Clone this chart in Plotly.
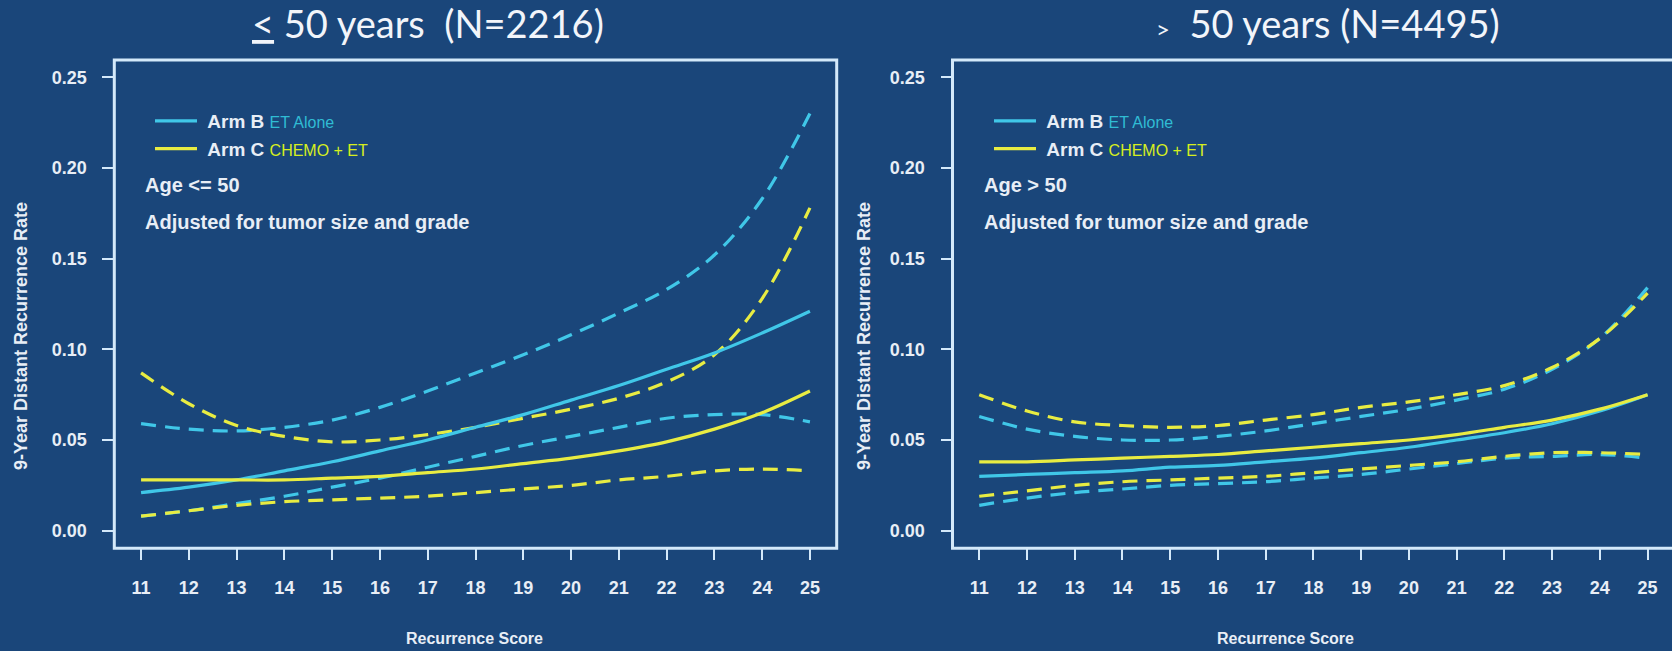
import plotly.graph_objects as go

# ---------------- data ----------------
rs = list(range(11, 26))
y_ticks = [0.00, 0.05, 0.10, 0.15, 0.20, 0.25]

# Age <= 50
young_b = [0.021, 0.024, 0.028, 0.033, 0.038, 0.044, 0.050, 0.057, 0.064, 0.072, 0.080, 0.089, 0.098, 0.109, 0.121]
young_b_hi = [0.059, 0.056, 0.055, 0.057, 0.061, 0.068, 0.077, 0.087, 0.097, 0.108, 0.120, 0.133, 0.152, 0.183, 0.230]
young_b_lo = [0.008, 0.011, 0.015, 0.019, 0.024, 0.029, 0.035, 0.041, 0.047, 0.052, 0.057, 0.062, 0.064, 0.064, 0.060]
young_c = [0.028, 0.028, 0.028, 0.028, 0.029, 0.030, 0.032, 0.034, 0.037, 0.040, 0.044, 0.049, 0.056, 0.065, 0.077]
young_c_hi = [0.087, 0.070, 0.058, 0.052, 0.049, 0.050, 0.053, 0.057, 0.062, 0.067, 0.073, 0.082, 0.097, 0.128, 0.178]
young_c_lo = [0.008, 0.011, 0.014, 0.016, 0.017, 0.018, 0.019, 0.021, 0.023, 0.025, 0.028, 0.030, 0.033, 0.034, 0.033]

# Age > 50
old_b = [0.030, 0.031, 0.032, 0.033, 0.035, 0.036, 0.038, 0.040, 0.043, 0.046, 0.050, 0.054, 0.059, 0.066, 0.075]
old_b_hi = [0.063, 0.056, 0.052, 0.050, 0.050, 0.052, 0.055, 0.059, 0.063, 0.067, 0.072, 0.078, 0.089, 0.106, 0.134]
old_b_lo = [0.014, 0.018, 0.021, 0.023, 0.025, 0.026, 0.027, 0.029, 0.031, 0.034, 0.037, 0.040, 0.041, 0.042, 0.040]
old_c = [0.038, 0.038, 0.039, 0.040, 0.041, 0.042, 0.044, 0.046, 0.048, 0.050, 0.053, 0.057, 0.061, 0.067, 0.075]
old_c_hi = [0.075, 0.066, 0.060, 0.058, 0.057, 0.058, 0.061, 0.064, 0.068, 0.071, 0.075, 0.080, 0.090, 0.106, 0.131]
old_c_lo = [0.019, 0.022, 0.025, 0.027, 0.028, 0.029, 0.030, 0.032, 0.034, 0.036, 0.038, 0.041, 0.043, 0.043, 0.042]

# ---------------- styling ----------------
W, H = 1672, 651
BG = "#1a467a"
CYAN = "#40c7e8"
YELLOW = "#e8ec42"
CYAN_TXT = "#30bcd4"
YELLOW_TXT = "#d6ee1e"
FG = "#e8eef6"
BOX = "#d4e9fa"
BOLD = "Liberation Sans, Arial, sans-serif"
TITLE_FONT = "Lato, Open Sans, sans-serif"
DASH = "15px,9px"
NB = "\u00a0"


def px(x):
    return x / W


def py(y):
    return 1 - y / H


fig = go.Figure()


def add_panel(xa, ya, leg, b, bhi, blo, c, chi, clo):
    for vals, col in [(bhi, CYAN), (blo, CYAN), (chi, YELLOW), (clo, YELLOW)]:
        fig.add_trace(go.Scatter(x=rs, y=vals, mode="lines", xaxis=xa, yaxis=ya,
                                 line=dict(color=col, width=3.2, dash=DASH, shape="spline"),
                                 showlegend=False, hoverinfo="skip"))
    fig.add_trace(go.Scatter(x=rs, y=b, mode="lines", xaxis=xa, yaxis=ya, legend=leg,
                             name=NB + "<b>Arm B</b> <span style='font-size:16px;color:%s'>ET Alone</span>" % CYAN_TXT,
                             line=dict(color=CYAN, width=3.2, shape="spline")))
    fig.add_trace(go.Scatter(x=rs, y=c, mode="lines", xaxis=xa, yaxis=ya, legend=leg,
                             name=NB + "<b>Arm C</b> <span style='font-size:16px;color:%s'>CHEMO + ET</span>" % YELLOW_TXT,
                             line=dict(color=YELLOW, width=3.2, shape="spline")))


add_panel("x", "y", "legend", young_b, young_b_hi, young_b_lo, young_c, young_c_hi, young_c_lo)
add_panel("x2", "y2", "legend2", old_b, old_b_hi, old_b_lo, old_c, old_c_hi, old_c_lo)

yr = [-0.0097, 0.2595]
ydom = [py(548.3), py(60)]
xax_common = dict(tickvals=rs, ticks="outside", ticklen=11, tickwidth=1.5, tickcolor=BOX,
                  showgrid=False, zeroline=False, showline=False, ticklabelstandoff=12,
                  tickfont=dict(family=BOLD, size=18, color=FG, weight="bold"))
yax_common = dict(tickvals=y_ticks, tickformat=".2f", ticks="outside", ticklen=11, tickwidth=1.5,
                  tickcolor=BOX, showgrid=False, zeroline=False, showline=False, range=yr,
                  domain=ydom, ticklabelstandoff=12,
                  tickfont=dict(family=BOLD, size=18, color=FG, weight="bold"))

legend_common = dict(xanchor="left", yanchor="top", bgcolor="rgba(0,0,0,0)",
                     font=dict(family=BOLD, size=19, color=FG), tracegroupgap=0,
                     itemwidth=42)

fig.update_layout(
    width=W, height=H,
    margin=dict(l=0, r=0, t=0, b=0),
    paper_bgcolor=BG, plot_bgcolor=BG,
    xaxis=dict(domain=[px(114.3), px(836.7)], range=[10.44, 25.56], **xax_common),
    xaxis2=dict(domain=[px(952.5), 1.0], range=[10.44, 10.44 + (W - 952.5) / 47.74], **xax_common),
    yaxis=dict(anchor="x", **yax_common),
    yaxis2=dict(anchor="x2", **yax_common),
    legend=dict(x=px(150), y=py(102), **legend_common),
    legend2=dict(x=px(989), y=py(102), **legend_common),
    shapes=[
        dict(type="rect", xref="paper", yref="paper", x0=px(114.3), x1=px(836.7),
             y0=py(548.3), y1=py(60), line=dict(color=BOX, width=3), layer="below"),
        dict(type="rect", xref="paper", yref="paper", x0=px(952.5), x1=px(1677),
             y0=py(548.3), y1=py(60), line=dict(color=BOX, width=3), layer="below"),
    ],
)

ann = []
# panel titles
ann.append(dict(text="<u>&lt;</u> 50 years" + NB * 2 + "(N=2216)", x=px(428), y=py(23),
                font=dict(family=TITLE_FONT, size=38, color="#f2f5fa")))
ann.append(dict(text="<span style='font-size:24px'>&gt;</span>" + NB * 2 + "50 years (N=4495)", x=px(1328), y=py(23),
                font=dict(family=TITLE_FONT, size=38, color="#f2f5fa")))
# axis titles
for xc in (474, 1285):
    ann.append(dict(text="<b>Recurrence Score</b>", x=px(xc), y=py(638),
                    font=dict(family=BOLD, size=16, color=FG)))
for xc in (21, 864):
    ann.append(dict(text="<b>9-Year Distant Recurrence Rate</b>", x=px(xc), y=py(336), textangle=-90,
                    font=dict(family=BOLD, size=18, color=FG)))
# in-plot notes
for xl, age in ((143, "Age &lt;= 50"), (982, "Age &gt; 50")):
    ann.append(dict(text="<b>%s</b>" % age, x=px(xl), y=py(185), xanchor="left",
                    font=dict(family=BOLD, size=20, color=FG)))
    ann.append(dict(text="<b>Adjusted for tumor size and grade</b>", x=px(xl), y=py(222), xanchor="left",
                    font=dict(family=BOLD, size=20, color=FG)))

for a in ann:
    a.setdefault("xref", "paper")
    a.setdefault("yref", "paper")
    a.setdefault("showarrow", False)
    a.setdefault("xanchor", "center")
    a.setdefault("yanchor", "middle")
fig.update_layout(annotations=ann)

fig.write_html(
    "out.html",
    config={"displayModeBar": False},
    post_script="document.body.style.margin='0';document.body.style.overflow='hidden';"
                "document.body.style.background='%s';" % BG,
)
